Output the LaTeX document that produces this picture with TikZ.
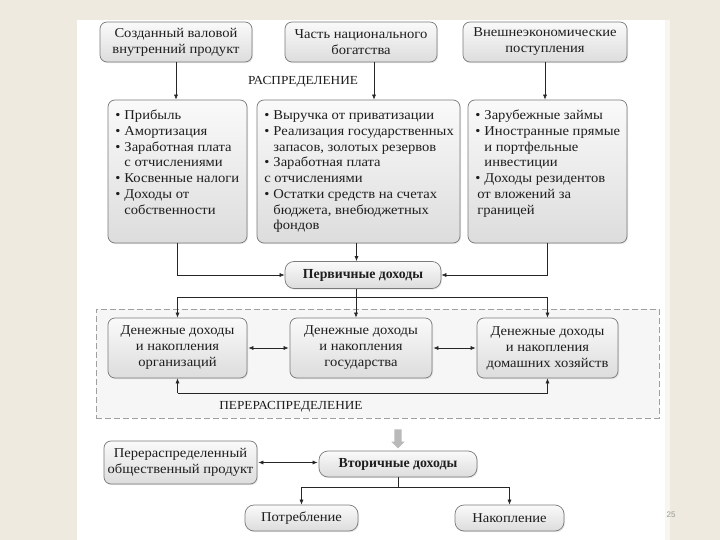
\documentclass[tikz,border=0pt]{standalone}
\usepackage{fontspec}
\setmainfont{Liberation Serif}[FakeStretch=1.08]
\newfontfamily\bfam{Liberation Serif}
\newfontfamily\pgfont{Liberation Sans}
\usetikzlibrary{arrows.meta,shapes.arrows,shadows,calc}
\definecolor{bgbeige}{HTML}{EEEAE0}
\definecolor{boxborder}{HTML}{7A7A7A}
\definecolor{txtc}{HTML}{1E1E1E}
\begin{document}
\begin{tikzpicture}[x=1pt,y=-1pt,
  box/.style={draw=boxborder, line width=0.7pt, rounded corners=7pt,
    top color=gray!4, bottom color=gray!27, inner sep=0pt,
    drop shadow={opacity=0.18, shadow xshift=1pt, shadow yshift=-1.2pt}},
  pill/.style={box, rounded corners=9pt},
  txt/.style={text=txtc, font=\fontsize{13.5}{16}\selectfont, align=center},
  btxt/.style={text=txtc, font=\bfam\bfseries\fontsize{13.8}{16}\selectfont, align=center},
  listtxt/.style={text=txtc, font=\fontsize{13.5}{15.7}\selectfont, inner sep=0pt, align=left},
  lbl/.style={text=txtc, font=\fontsize{12.3}{14}\selectfont, inner sep=0pt},
  tip/.tip={Latex[length=5pt,width=4pt]},
  arr/.style={-tip, line width=0.6pt, draw=black!85},
  darr/.style={tip-tip, line width=0.6pt, draw=black!85, shorten <=1pt, shorten >=1pt},
  ln/.style={line width=0.6pt, draw=black!85},
  region/.style={draw=gray!75, dashed, dash pattern=on 6pt off 3pt, fill=gray!7, line width=0.6pt, inner sep=0pt}
]
\useasboundingbox (0,0) rectangle (720,540);
\fill[bgbeige] (0,0) rectangle (720,540);
\fill[white] (77,20) rectangle (665,540);
\fill[bgbeige!45!white] (665,20) rectangle (670,540);

% top sources
\node[box, txt, minimum width=152pt, minimum height=40pt] (b1) at (176,42) {Созданный валовой\\внутренний продукт};
\node[box, txt, minimum width=152pt, minimum height=40pt] (b2) at (361,42) {Часть национального\\богатства};
\node[box, txt, minimum width=164pt, minimum height=40pt] (b3) at (545,42) {Внешнеэкономические\\поступления};

\node[lbl] (rasp) at (303,82) {РАСПРЕДЕЛЕНИЕ};

% list boxes
\node[box, minimum width=139pt, minimum height=143pt] (b4) at (177.5,171.5) {};
\node[box, minimum width=203pt, minimum height=143pt] (b5) at (358.5,171.5) {};
\node[box, minimum width=159pt, minimum height=143pt] (b6) at (547.5,171.5) {};

\node[listtxt, anchor=north west] (t4) at ([xshift=7.5pt,yshift=-9pt]b4.north west) {%
\begin{tabular}{@{}l@{\hspace{4pt}}l@{}}
\textbullet & Прибыль\\
\textbullet & Амортизация\\
\textbullet & Заработная плата\\
 & с отчислениями\\
\textbullet & Косвенные налоги\\
\textbullet & Доходы от\\
 & собственности
\end{tabular}};
\node[listtxt, anchor=north west] (t5) at ([xshift=7.5pt,yshift=-9pt]b5.north west) {%
\begin{tabular}{@{}l@{\hspace{4pt}}l@{}}
\textbullet & Выручка от приватизации\\
\textbullet & Реализация государственных\\
 & запасов, золотых резервов\\
\textbullet & Заработная плата\\
\multicolumn{2}{@{}l@{}}{с отчислениями}\\
\textbullet & Остатки средств на счетах\\
 & бюджета, внебюджетных\\
 & фондов
\end{tabular}};
\node[listtxt, anchor=north west] (t6) at ([xshift=7.5pt,yshift=-9pt]b6.north west) {%
\begin{tabular}{@{}l@{\hspace{4pt}}l@{}}
\textbullet & Зарубежные займы\\
\textbullet & Иностранные прямые\\
 & и портфельные\\
 & инвестиции\\
\textbullet & Доходы резидентов\\
\multicolumn{2}{@{}l@{}}{\hspace{2pt}от вложений за}\\
\multicolumn{2}{@{}l@{}}{\hspace{2pt}границей}
\end{tabular}};

\draw[arr] (b1.south) -- (b1.south |- b4.north);
\draw[arr] ([xshift=13pt]b2.south) -- ([xshift=13pt]b2.south |- b5.north);
\draw[arr] (b3.south) -- (b3.south |- b6.north);

% primary incomes
\node[pill, btxt, minimum width=156pt, minimum height=27pt] (prim) at (363,275) {Первичные доходы};
\draw[arr] (b4.south) |- (prim.west);
\draw[arr] ([xshift=-2pt]b5.south) -- ([xshift=-2pt]b5.south |- prim.north);
\draw[arr] (b6.south) |- (prim.east);

% redistribution region
\node[region, minimum width=563pt, minimum height=109pt] (redist) at (377.5,363.5) {};
\node[box, txt, minimum width=139pt, minimum height=60pt] (b7) at (177.5,348) {Денежные доходы\\и накопления\\организаций};
\node[box, txt, minimum width=142pt, minimum height=60pt] (b8) at (361,348) {Денежные доходы\\и накопления\\государства};
\node[box, txt, minimum width=141pt, minimum height=60pt] (b9) at (547.5,348) {Денежные доходы\\и накопления\\домашних хозяйств};

\coordinate (dy) at (0,297);
\coordinate (ry) at (0,393);
\coordinate (mx) at (356,0);
\draw[ln] (b7.north |- dy) -- (b9.north |- dy);
\draw[arr] (b7.north |- dy) -- (b7.north);
\draw[arr] (mx |- prim.south) -- (mx |- b8.north);
\draw[arr] (b9.north |- dy) -- (b9.north);
\draw[darr] (b7.east) -- (b8.west);
\draw[darr] (b8.east) -- (b9.west);
\draw[ln] (b7.south |- ry) -- (b9.south |- ry);
\draw[arr] (b7.south |- ry) -- (b7.south);
\draw[arr] (b9.south |- ry) -- (b9.south);
\node[lbl] (pere) at (291,407) {ПЕРЕРАСПРЕДЕЛЕНИЕ};

% big grey arrow
\node[single arrow, fill=gray!55, draw=none, rotate=-90, inner sep=3.5pt,
      single arrow head extend=3pt, minimum height=19pt] (garr) at (398,437) {};

% secondary
\node[box, txt, minimum width=153pt, minimum height=43pt] (rp) at (180.5,462.5) {Перераспределенный\\общественный продукт};
\node[pill, btxt, minimum width=158pt, minimum height=26pt] (sec) at (398,464) {Вторичные доходы};
\draw[darr] (rp.east) -- (rp.east -| sec.west);

\node[pill, txt, minimum width=113pt, minimum height=26pt] (cons) at (301.5,518) {Потребление};
\node[pill, txt, minimum width=109pt, minimum height=26pt] (acc) at (509.5,518) {Накопление};
\coordinate (by) at (0,487);
\draw[ln] (sec.south) -- (sec.south |- by);
\draw[ln] (cons.north |- by) -- (acc.north |- by);
\draw[arr] (cons.north |- by) -- (cons.north);
\draw[arr] (acc.north |- by) -- (acc.north);

\node[font=\pgfont\fontsize{8}{9}\selectfont, text=gray!80] (pg) at (671,515) {25};
\end{tikzpicture}
\end{document}
